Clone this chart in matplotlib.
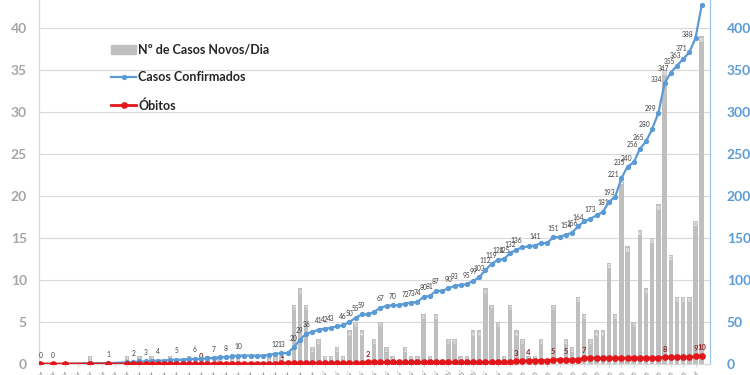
import numpy as np
import pandas as pd
import matplotlib.pyplot as plt
from matplotlib.lines import Line2D
from matplotlib.patches import Patch

plt.rcParams['font.family'] = ['Lato', 'DejaVu Sans']

# dias contados a partir de 17/03 (primeiros registos espaçados, depois diários)
inicio = pd.Timestamp("2020-03-17")
dia = [0, 2, 4, 8, 11] + list(range(14, 108))

confirmados = [0, 0, 0, 1, 1,
               2, 2, 3, 3, 4, 4, 4, 5, 5, 5,
               6, 6, 6, 7, 7, 8, 8, 9, 10, 10,
               10, 10, 10, 11, 12, 13, 13, 20, 29, 36,
               38, 41, 42, 43, 45, 46, 50, 55, 59, 59,
               62, 67, 69, 70, 70, 72, 73, 74, 80, 81,
               87, 87, 90, 93, 94, 95, 99, 103, 112, 119,
               124, 125, 132, 136, 139, 140, 141, 144, 144, 151,
               151, 154, 156, 164, 170, 173, 177, 181, 193, 199,
               221, 235, 240, 256, 265, 280, 299, 334, 347, 355,
               363, 371, 388, 427]

novos = [0, 0, 0, 1, 0,
         1, 0, 1, 0, 1, 0, 0, 1, 0, 0,
         1, 0, 0, 1, 0, 1, 0, 1, 1, 0,
         0, 0, 0, 1, 1, 1, 0, 7, 9, 7,
         2, 3, 1, 1, 2, 1, 4, 5, 4, 0,
         3, 5, 2, 1, 0, 2, 1, 1, 6, 1,
         6, 0, 3, 3, 1, 1, 4, 4, 9, 7,
         5, 1, 7, 4, 3, 1, 1, 3, 0, 7,
         0, 3, 2, 8, 6, 3, 4, 4, 12, 6,
         22, 14, 5, 16, 9, 15, 19, 35, 13, 8,
         8, 8, 17, 39]

obitos = [0, 0, 0, 0, 0,
          0, 0, 0, 0, 0, 0, 0, 0, 0, 0,
          0, 0, 0, 0, 0, 0, 0, 0, 0, 0,
          0, 0, 0, 0, 0, 1, 1, 1, 1, 1,
          1, 1, 1, 1, 1, 1, 1, 1, 1, 2,
          2, 2, 2, 2, 2, 2, 2, 2, 2, 2,
          2, 2, 2, 2, 2, 2, 2, 2, 2, 2,
          2, 2, 2, 3, 3, 4, 4, 4, 4, 5,
          5, 5, 5, 5, 7, 7, 7, 7, 7, 7,
          7, 7, 7, 7, 7, 7, 7, 8, 8, 8,
          8, 8, 9, 10]

# pontos com rótulo visível
rot_conf = [0, 2, 11, 15, 17, 19, 22, 25, 28, 30, 32, 38, 39, 41, 42, 43, 45, 46, 47,
            49, 50, 51, 52, 55, 57, 59, 60, 61, 62, 63, 64, 66, 67, 69, 70, 71, 72, 73,
            74, 75, 76, 77, 80, 83, 85, 86, 87, 89, 91, 92, 94, 95, 96, 97, 98, 99, 100,
            101, 102, 103, 104, 105, 106, 107]
rot_obitos = [26, 39, 53, 77, 79, 83, 85, 88, 101, 106, 107]

meses = {3: 'mar', 4: 'abr', 5: 'mai', 6: 'jun', 7: 'jul'}
tick_dias = list(range(0, 108, 2))
tick_txt = []
for d in tick_dias:
    t = inicio + pd.Timedelta(days=d)
    tick_txt.append(f"{t.day:02d}/{meses[t.month]}")

fig = plt.figure(figsize=(7.5, 3.75), dpi=100)
ax = fig.add_axes([0.0524, 0.0293, 0.8943, 0.9707])
ax2 = ax.twinx()

cinza = '#BFBFBF'
azul = '#5B9BD5'
vermelho = '#E3161B'

ax.bar(dia, novos, width=0.72, color=cinza, zorder=2)
for d, v in zip(dia, novos):
    if v > 0:
        ax.text(d, v - 0.15, str(v), color='white', fontsize=3.5, ha='center', va='top', zorder=3)

ax2.plot(dia, confirmados, color=azul, lw=1.6, marker='o', markersize=2.8, zorder=4)
ax2.plot(dia, obitos, color=vermelho, lw=2, marker='o', markersize=3.8, zorder=5)

for d in rot_conf:
    v = confirmados[dia.index(d)]
    if 94 <= d < 107:
        ax2.annotate(str(v), (d, v), textcoords='offset pixels', xytext=(-2, 4),
                     ha='right', va='center', fontsize=4.8, color='#404040')
    else:
        ax2.annotate(str(v), (d, v), textcoords='offset pixels', xytext=(0, 9),
                     ha='center', va='center', fontsize=4.8, color='#404040')

for d in rot_obitos:
    v = obitos[dia.index(d)]
    ax2.annotate(str(v), (d, v), textcoords='offset pixels', xytext=(0, 8),
                 ha='center', va='center', fontsize=5.5, color='#8B2A2A', fontweight='bold')

ax.set_xlim(-0.19, 108.35)
ax.set_ylim(0, 43.33)
ax2.set_ylim(0, 433.3)
ax.set_yticks(range(0, 41, 5))
ax2.set_yticks(range(0, 401, 50))
ax.set_xticks(tick_dias)
ax.set_xticklabels(tick_txt, rotation=45, ha='right', rotation_mode='anchor',
                   fontsize=5, color='#7F7F7F')
ax.tick_params(axis='x', length=2, color='#D9D9D9', pad=2)
ax.tick_params(axis='y', length=0, pad=9, labelsize=10, labelcolor='#A6A6A6')
ax2.tick_params(axis='y', length=0, pad=12, labelsize=10, labelcolor=azul)
for lab in ax.get_yticklabels():
    lab.set_fontweight('bold')
for lab in ax2.get_yticklabels():
    lab.set_fontweight('bold')

ax.yaxis.grid(True, color='#D9D9D9', lw=0.8, zorder=0)
ax.set_axisbelow(True)
for a in (ax, ax2):
    a.spines['top'].set_visible(False)
    a.spines['bottom'].set_color('#D9D9D9')
    a.spines['left'].set_color('#D9D9D9')
    a.spines['right'].set_color('#9DC3E6')

handles = [Patch(color=cinza),
           Line2D([], [], color=azul, lw=1.6, marker='o', markersize=2.8),
           Line2D([], [], color=vermelho, lw=2, marker='o', markersize=3.8)]
labels = ['Nº de Casos Novos/Dia', 'Casos Confirmados', 'Óbitos']
leg = ax.legend(handles, labels, loc='upper left', bbox_to_anchor=(0.14, 0.9),
                bbox_transform=fig.transFigure, frameon=False, fontsize=9,
                labelspacing=1.25, handlelength=2.0, handletextpad=0.15, borderpad=0)
for t in leg.get_texts():
    t.set_fontweight('bold')
    t.set_color('#262626')

fig.savefig('out.png', dpi=100)
